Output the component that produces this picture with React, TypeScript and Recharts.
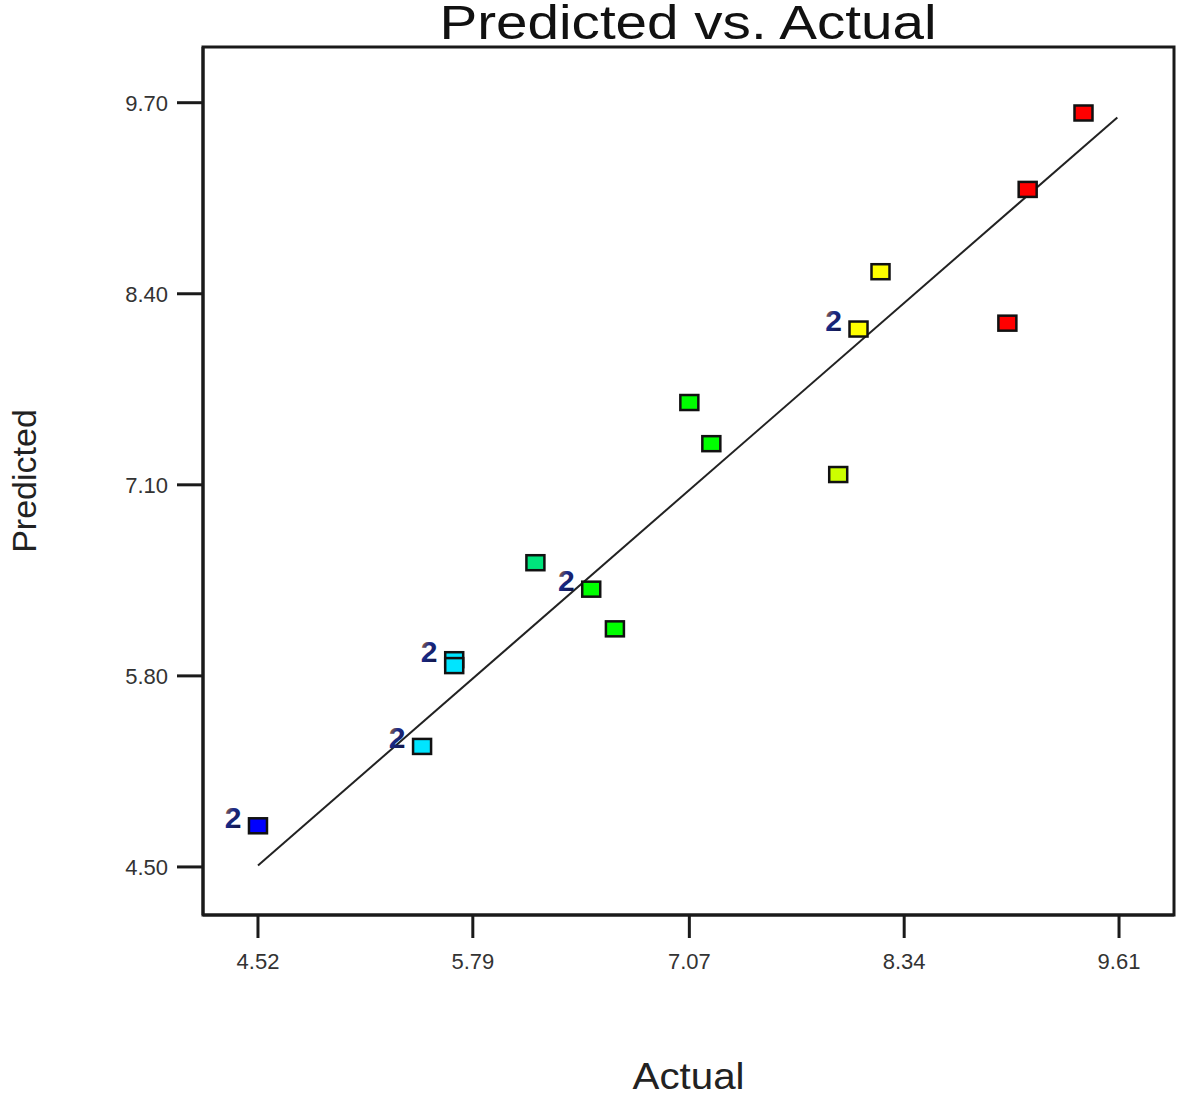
import { ScatterChart, Scatter, XAxis, YAxis, ReferenceArea, ReferenceLine, Label } from 'recharts'

const xTicks = [4.52, 5.79, 7.07, 8.34, 9.61]
const yTicks = [4.5, 5.8, 7.1, 8.4, 9.7]

const xDomain = [4.195, 9.935]
const yDomain = [4.173, 10.079]

// design points: actual vs predicted
const actual = [9.40, 9.07, 8.95, 8.20, 8.07, 7.95, 7.07, 7.20, 6.16, 6.49, 6.63, 5.68, 5.68, 5.49, 4.52]
const predicted = [9.63, 9.11, 8.20, 8.55, 8.16, 7.17, 7.66, 7.38, 6.57, 6.39, 6.12, 5.91, 5.87, 5.32, 4.78]
const counts = [1, 1, 1, 1, 2, 1, 1, 1, 1, 2, 1, 2, 1, 2, 2]
const pointColors = ['#ff0000', '#ff0000', '#ff0000', '#ffff00', '#ffff00', '#ccff00', '#00ff00', '#00ff00', '#00e47c', '#00ff00', '#00ff00', '#00e5ff', '#00e5ff', '#00e5ff', '#0000ff']

const fitLine = [
  { x: 4.52, y: 4.51 },
  { x: 9.6, y: 9.6 },
]

const points = actual.map((a, i) => ({ x: a, y: predicted[i], count: counts[i], color: pointColors[i] }))

const axisColor = '#1a1a1a'
const font = 'Liberation Sans, Arial, sans-serif'

function PointShape(props: any) {
  const { cx, cy, payload } = props
  if (cx == null || cy == null) return null
  return (
    <g>
      <rect x={cx - 9} y={cy - 7.5} width={18} height={15} fill={payload.color} stroke="#111" strokeWidth={2.5} />
      {payload.count > 1 && (
        <text x={cx - 25} y={cy + 2} textAnchor="middle" fontFamily={font} fontWeight="bold" fontSize={30} fill="url(#twoGrad)">
          {payload.count}
        </text>
      )}
    </g>
  )
}

export default function App() {
  return (
    <div style={{ position: 'absolute', left: 0, top: 0, width: 1181, height: 1096, background: '#fff' }}>
      <ScatterChart width={1181} height={1096} margin={{ top: 47, right: 7, left: 0, bottom: 0 }}>
        <defs>
          <linearGradient id="twoGrad" x1="0" y1="0" x2="1" y2="1">
            <stop offset="0%" stopColor="#ff8a00" />
            <stop offset="40%" stopColor="#1a2a8a" />
            <stop offset="100%" stopColor="#101030" />
          </linearGradient>
        </defs>
        <text x={688} y={39} textAnchor="middle" fontFamily={font} fontSize={49} fill="#111" textLength={497} lengthAdjust="spacingAndGlyphs">
          Predicted vs. Actual
        </text>
        <XAxis
          type="number"
          dataKey="x"
          domain={xDomain}
          ticks={xTicks}
          tickFormatter={(v: number) => v.toFixed(2)}
          height={181}
          tickSize={23}
          tickMargin={15}
          stroke={axisColor}
          strokeWidth={3}
          tick={{ fill: '#333', fontSize: 22, fontFamily: font }}
          allowDataOverflow
        >
          <Label
            content={(p: any) => {
              const vb = p.viewBox
              return (
                <text x={vb.x + vb.width / 2} y={1089} textAnchor="middle" fontFamily={font} fontSize={36} fill="#222" textLength={112} lengthAdjust="spacingAndGlyphs">
                  Actual
                </text>
              )
            }}
          />
        </XAxis>
        <YAxis
          type="number"
          dataKey="y"
          domain={yDomain}
          ticks={yTicks}
          tickFormatter={(v: number) => v.toFixed(2)}
          width={203}
          tickSize={26}
          tickMargin={9}
          stroke={axisColor}
          strokeWidth={3}
          tick={{ fill: '#333', fontSize: 22, fontFamily: font }}
          allowDataOverflow
        >
          <Label
            content={(p: any) => {
              const vb = p.viewBox
              const cy = vb.y + vb.height / 2
              return (
                <text x={36} y={cy} transform={`rotate(-90 36 ${cy})`} textAnchor="middle" fontFamily={font} fontSize={34} fill="#222">
                  Predicted
                </text>
              )
            }}
          />
        </YAxis>
        <ReferenceArea
          x1={xDomain[0]}
          x2={xDomain[1]}
          y1={yDomain[0]}
          y2={yDomain[1]}
          fill="none"
          fillOpacity={0}
          stroke={axisColor}
          strokeWidth={3}
          strokeOpacity={1}
        />
        <ReferenceLine segment={[fitLine[0], fitLine[1]]} stroke="#222" strokeWidth={2} />
        <Scatter data={points} shape={PointShape} isAnimationActive={false} />
      </ScatterChart>
    </div>
  )
}
